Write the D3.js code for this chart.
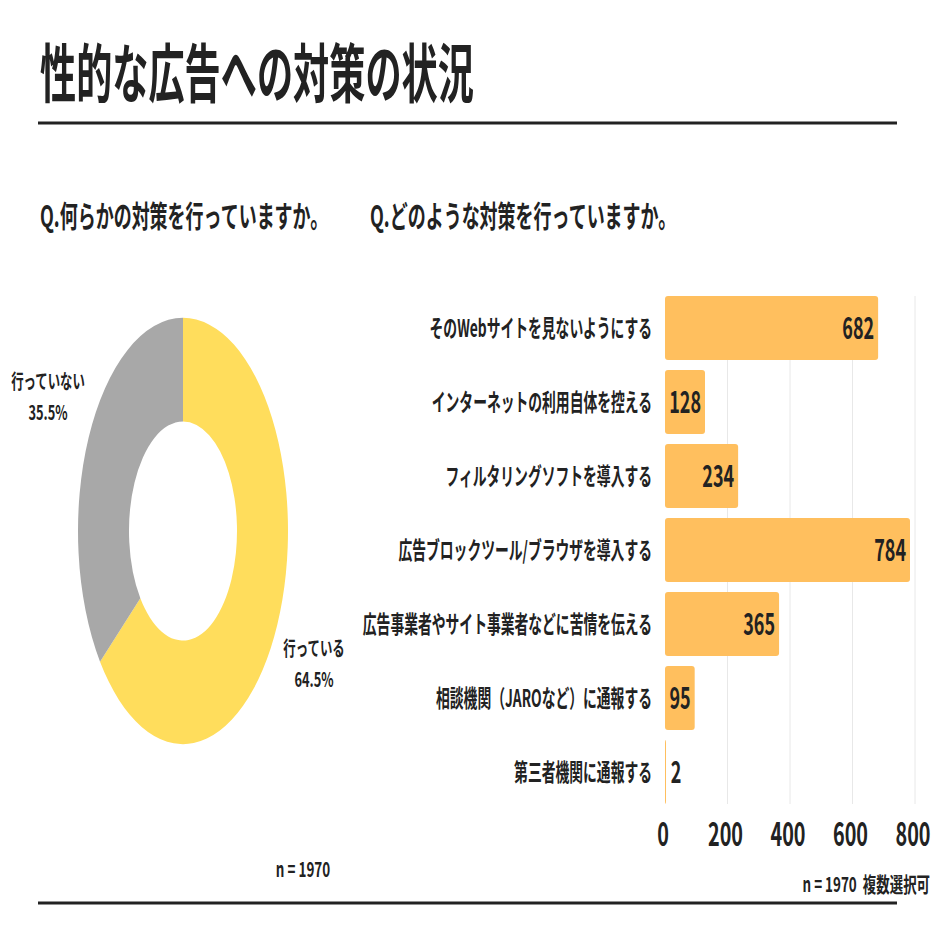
<!DOCTYPE html>
<html>
<head>
<meta charset="utf-8">
<script src="https://cdn.jsdelivr.net/npm/d3@7"></script>
<style>
  body { margin: 0; background: #fff; }
  text { font-family: "Noto Sans CJK JP", "Noto Sans", sans-serif; font-weight: 700; fill: #222; white-space: pre; }
</style>
</head>
<body>
<div id="chart"></div>
<script>
// data
var title = "性的な広告への対策の状況";
var q1 = "Q.何らかの対策を行っていますか。";
var q2 = "Q.どのような対策を行っていますか。";

var pieLabels = ["行っている", "行っていない"];
var pieValues = [64.5, 35.5];
var pieColors = ["#FFDD5C", "#A8A8A8"];

var categories = [
    "そのWebサイトを見ないようにする",
    "インターネットの利用自体を控える",
    "フィルタリングソフトを導入する",
    "広告ブロックツール/ブラウザを導入する",
    "広告事業者やサイト事業者などに苦情を伝える",
    "相談機関（JAROなど）に通報する",
    "第三者機関に通報する"
];
var counts = [682, 128, 234, 784, 365, 95, 2];
var xTicks = [0, 200, 400, 600, 800];

var width = 946, height = 946;

const svg = d3.select("#chart")
    .append("svg")
    .attr("width", width)
    .attr("height", height);

// condensed text helper (the source type is tall and narrow)
function ctext(g, x, y, str, size, sx, anchor) {
    return g.append("text")
        .attr("transform", `translate(${x},${y}) scale(${sx},1)`)
        .attr("text-anchor", anchor || "start")
        .style("font-size", size + "px")
        .text(str);
}

// header
ctext(svg, 40, 97, title, 64, 0.565);
svg.append("line")
    .attr("x1", 38).attr("x2", 897)
    .attr("y1", 123).attr("y2", 123)
    .attr("stroke", "#222").attr("stroke-width", 3);

ctext(svg, 40, 227, q1, 30, 0.6);
ctext(svg, 370, 227, q2, 30, 0.6);

// donut (drawn as circle, stretched vertically)
var cx = 183, cy = 531, stretch = 2.03;
var pie = d3.pie().sort(null).value(d => d);
var arc = d3.arc().innerRadius(54).outerRadius(105);

var donut = svg.append("g")
    .attr("transform", `translate(${cx},${cy}) scale(1,${stretch})`);

donut.selectAll("path")
    .data(pie(pieValues))
    .enter()
    .append("path")
    .attr("d", arc)
    .attr("fill", (d, i) => pieColors[i]);

// slice labels
var labelPos = [[314, 656], [48, 389]];
pieLabels.forEach(function(lab, i) {
    ctext(svg, labelPos[i][0], labelPos[i][1], lab, 20, 0.62, "middle");
    ctext(svg, labelPos[i][0], labelPos[i][1] + 31, pieValues[i].toFixed(1) + "%", 20, 0.64, "middle");
});
ctext(svg, 303, 877, "n = 1970", 21, 0.64, "middle");

// bar chart
var xScale = d3.scaleLinear()
    .domain([0, 800])
    .range([665, 915]);

var yScale = d3.scaleBand()
    .domain(categories)
    .range([291, 809])
    .paddingInner(0.135)
    .paddingOuter(0.0675);

svg.append("g")
    .selectAll("line")
    .data(xTicks.slice(1))
    .enter()
    .append("line")
    .attr("x1", d => xScale(d)).attr("x2", d => xScale(d))
    .attr("y1", 296).attr("y2", 804)
    .attr("stroke", "#e8e8e8").attr("stroke-width", 1);

var bars = categories.map((c, i) => ({cat: c, value: counts[i]}));

svg.selectAll("rect.bar")
    .data(bars)
    .enter()
    .append("rect")
    .attr("class", "bar")
    .attr("x", xScale(0))
    .attr("y", d => yScale(d.cat))
    .attr("width", d => Math.max(1, xScale(d.value) - xScale(0)))
    .attr("height", yScale.bandwidth())
    .attr("rx", 3)
    .attr("fill", "#FFBF5E");

// category and value labels
bars.forEach(function(d) {
    var yc = yScale(d.cat) + yScale.bandwidth() / 2;
    ctext(svg, 652, yc + 9, d.cat, 24, 0.575, "end");
    var barW = xScale(d.value) - xScale(0);
    var label = String(d.value);
    var tw = label.length * 10.3;
    if (barW > tw + 8) {
        ctext(svg, xScale(d.value) - 4, yc + 11, label, 30, 0.6, "end");
    } else {
        ctext(svg, xScale(d.value) + 5, yc + 11, label, 30, 0.6, "start");
    }
});

// x ticks (no axis line)
xTicks.forEach(function(t) {
    ctext(svg, xScale(t) - 2, 846, String(t), 33, 0.6, "middle");
});

ctext(svg, 930, 892, "n = 1970  複数選択可", 21, 0.64, "end");

// bottom rule
svg.append("line")
    .attr("x1", 38).attr("x2", 897)
    .attr("y1", 903).attr("y2", 903)
    .attr("stroke", "#222").attr("stroke-width", 3);
</script>
</body>
</html>
